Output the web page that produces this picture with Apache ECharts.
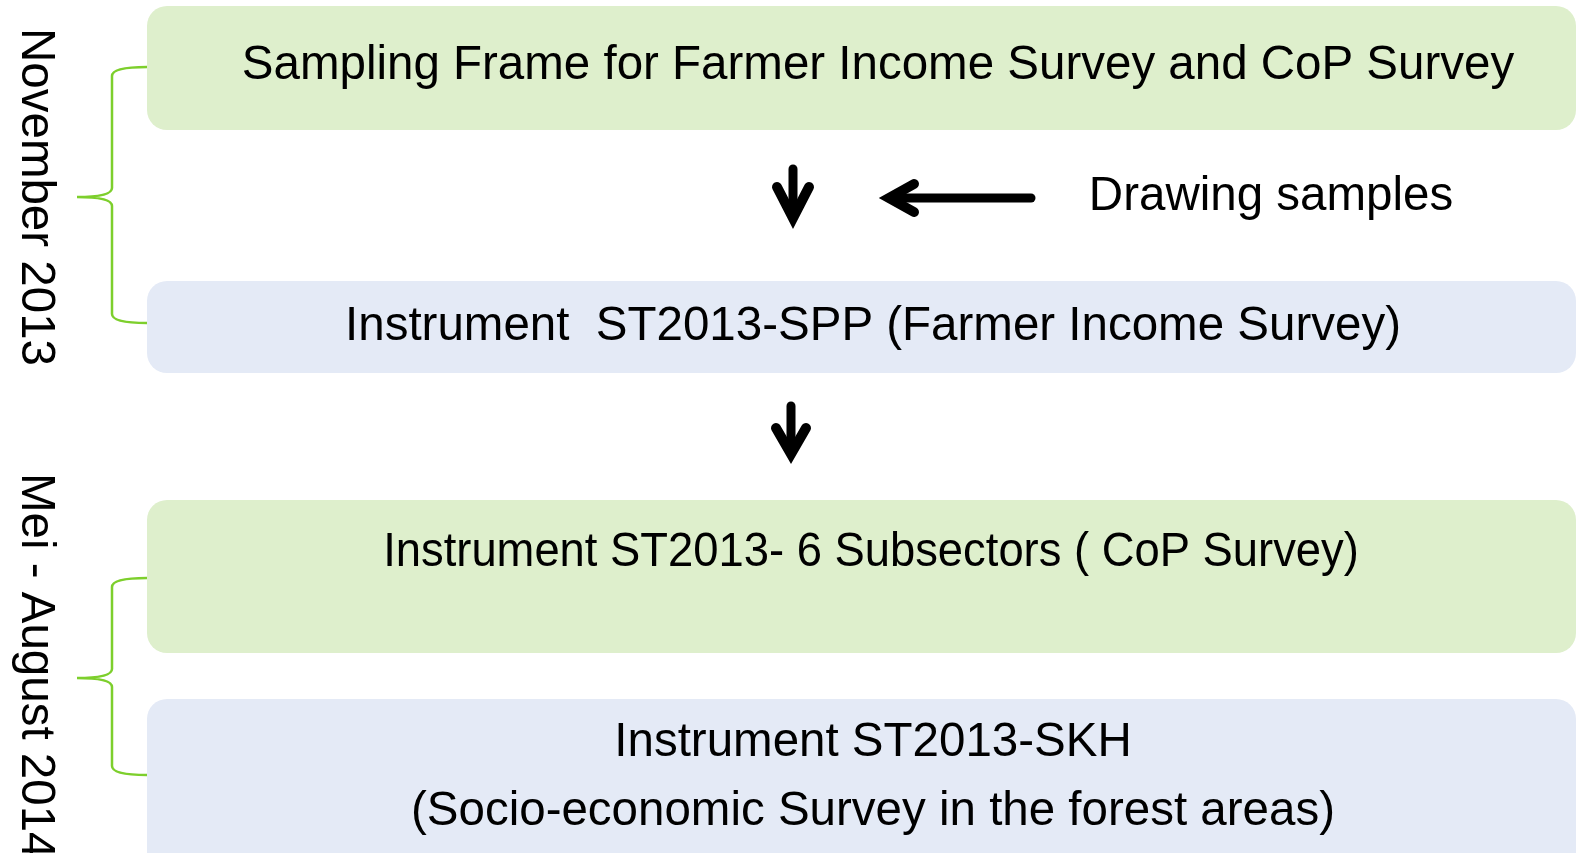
<!DOCTYPE html>
<html>
<head>
<meta charset="utf-8">
<script src="https://cdn.jsdelivr.net/npm/echarts@6/dist/echarts.min.js"></script>
<style>
  html, body { margin: 0; padding: 0; background: #fff; }
  #chart { width: 1577px; height: 853px; }
</style>
</head>
<body>
<div id="chart"></div>
<script>
// stages of the survey flow, top to bottom
const boxLabels = [
  ["Sampling Frame for Farmer Income Survey and CoP Survey"],
  ["Instrument  ST2013-SPP (Farmer Income Survey)"],
  ["Instrument ST2013- 6 Subsectors ( CoP Survey)"],
  ["Instrument ST2013-SKH", "(Socio-economic Survey in the forest areas)"]
];
const boxTop = [6, 281, 500, 699];
const boxBottom = [130, 373, 653, 880];
const boxKind = ["green", "blue", "green", "blue"];
const textY = [[66], [327], [553], [743, 812]];
const textCenterX = [878, 873, 871, 873];
// the third box's text is set a bit narrower in the source
const textSquash = [1, 1, 0.955, 1];

const sideNote = "Drawing samples";
const periodLabels = ["November 2013", "Mei - August 2014"];
const periodStart = [28, 473];
// brace spans: [top, middle, bottom]
const braceSpans = [[67, 197, 323], [578, 678, 775]];

const fills = { green: "#DEEFCC", blue: "#E4EAF6" };
const FONT = "Liberation Sans, Arial, sans-serif";

const chart = echarts.init(document.getElementById("chart"));

function px(api, x, y) { return api.coord([x, y]); }

chart.setOption({
  animation: false,
  grid: { left: 0, right: 0, top: 0, bottom: 0 },
  xAxis: { type: "value", min: 0, max: 1577, show: false },
  yAxis: { type: "value", min: 0, max: 853, inverse: true, show: false },
  series: [
    {
      type: "custom",
      name: "boxes",
      clip: false,
      data: boxTop.map((t, i) => [i, t, boxBottom[i]]),
      renderItem: (params, api) => {
        const i = api.value(0);
        const a = px(api, 147, api.value(1));
        const b = px(api, 1576, api.value(2));
        const children = [{
          type: "rect",
          shape: { x: a[0], y: a[1], width: b[0] - a[0], height: b[1] - a[1], r: 20 },
          style: { fill: fills[boxKind[i]] }
        }];
        boxLabels[i].forEach((line, k) => {
          const p = px(api, textCenterX[i], textY[i][k]);
          children.push({
            type: "text",
            x: p[0], y: p[1], scaleX: textSquash[i],
            style: {
              x: 0, y: 0, text: line, fill: "#000",
              font: "47.5px " + FONT, textAlign: "center", textVerticalAlign: "middle"
            }
          });
        });
        return { type: "group", children };
      }
    },
    {
      type: "custom",
      name: "periods",
      clip: false,
      data: periodLabels.map((l, i) => [i, periodStart[i]]),
      renderItem: (params, api) => {
        const i = api.value(0);
        const s = braceSpans[i];
        const p = px(api, 35, api.value(1));
        const t0 = px(api, 147, s[0]);
        const m = px(api, 77, s[1]);
        const b0 = px(api, 147, s[2]);
        const vx = 112;
        const path =
          `M${t0[0]},${t0[1]} Q${vx},${t0[1]} ${vx},${t0[1] + 9} ` +
          `L${vx},${m[1] - 9} Q${vx},${m[1]} ${m[0]},${m[1]} ` +
          `Q${vx},${m[1]} ${vx},${m[1] + 9} L${vx},${b0[1] - 9} ` +
          `Q${vx},${b0[1]} ${b0[0]},${b0[1]}`;
        return {
          type: "group",
          children: [
            {
              type: "path",
              shape: { pathData: path },
              style: { fill: null, stroke: "#7DCF2C", lineWidth: 2.5 }
            },
            {
              type: "text",
              x: p[0], y: p[1], rotation: -Math.PI / 2,
              style: {
                x: 0, y: 0, text: periodLabels[i], fill: "#000",
                font: "47.5px " + FONT, textAlign: "left", textVerticalAlign: "middle"
              }
            }
          ]
        };
      }
    },
    {
      type: "custom",
      name: "arrows",
      clip: false,
      data: [[0]],
      renderItem: (params, api) => {
        const line = (pts, w) => ({
          type: "polyline",
          shape: { points: pts.map(q => px(api, q[0], q[1])) },
          style: { fill: null, stroke: "#000", lineWidth: w, lineCap: "round", lineJoin: "miter", miterLimit: 10 }
        });
        const note = px(api, 1271, 197);
        return {
          type: "group",
          children: [
            line([[793, 169], [793, 215]], 9),
            line([[777, 187], [793, 218], [809, 187]], 10),
            line([[791, 406], [791, 450]], 9),
            line([[776, 428], [791, 454], [806, 428]], 10),
            line([[890, 198], [1031, 198]], 9),
            line([[914, 184], [889, 198], [914, 212]], 10),
            {
              type: "text",
              style: {
                x: note[0], y: note[1], text: sideNote, fill: "#000",
                font: "47.5px " + FONT, textAlign: "center", textVerticalAlign: "middle"
              }
            }
          ]
        };
      }
    }
  ]
});
</script>
</body>
</html>
